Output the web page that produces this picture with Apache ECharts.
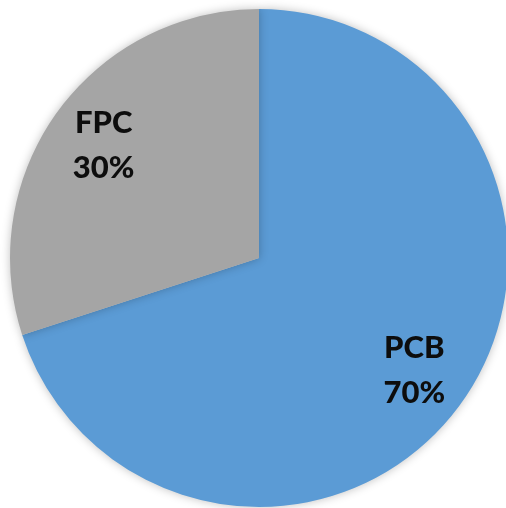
<!DOCTYPE html>
<html>
<head>
<meta charset="utf-8">
<script src="https://cdn.jsdelivr.net/npm/echarts@6/dist/echarts.min.js"></script>
<style>
  html, body { margin: 0; padding: 0; background: #fff; }
  #main { width: 506px; height: 508px; }
</style>
</head>
<body>
<div id="main"></div>
<script>
// chart data
const categories = ['PCB', 'FPC'];
const shares = [70, 30];
const colors = ['#5B9BD5', '#A5A5A5'];

const pieData = categories.map((name, i) => ({
  name: name,
  value: shares[i],
  itemStyle: { color: colors[i] }
}));

const chart = echarts.init(document.getElementById('main'));
chart.setOption({
  animation: false,
  series: [
    {
      // the visible pie
      type: 'pie',
      center: [259, 258],
      radius: [0, 249],
      startAngle: 90,
      clockwise: true,
      silent: true,
      label: { show: false },
      labelLine: { show: false },
      itemStyle: {
        borderWidth: 0,
        shadowBlur: 10,
        shadowColor: 'rgba(0,0,0,0.25)'
      },
      data: pieData
    },
    {
      // transparent ring only used to place the labels further out
      type: 'pie',
      center: [259, 258],
      radius: [0, 378],
      startAngle: 90,
      clockwise: true,
      silent: true,
      itemStyle: { color: 'transparent', borderWidth: 0 },
      label: {
        show: true,
        position: 'inside',
        formatter: p => p.name + '\n' + p.value + '%',
        fontFamily: 'Lato',
        fontWeight: 900,
        fontSize: 31,
        lineHeight: 45,
        color: '#0d0d0d'
      },
      labelLine: { show: false },
      data: categories.map((name, i) => ({ name: name, value: shares[i] }))
    }
  ]
});
</script>
</body>
</html>
